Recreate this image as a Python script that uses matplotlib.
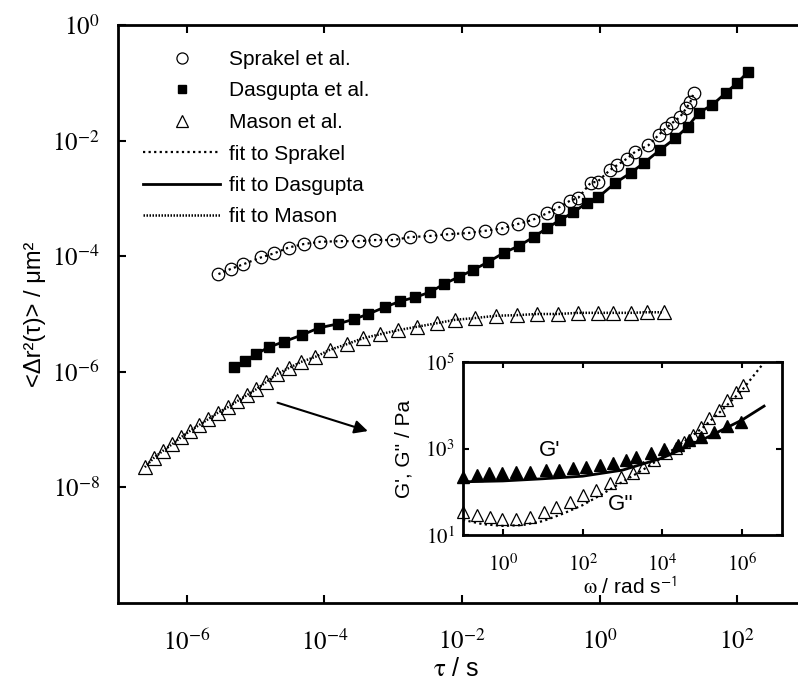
import numpy as np
import matplotlib
matplotlib.use('Agg')
import matplotlib.pyplot as plt
from matplotlib.ticker import FixedLocator, FuncFormatter, NullLocator
from matplotlib.lines import Line2D

plt.rcParams['font.family'] = ['Liberation Sans', 'DejaVu Sans']
plt.rcParams['mathtext.fontset'] = 'stix'

# ---------------- main plot data (log10 values) ----------------
sprakel_logtau = [-5.54, -5.36, -5.18, -4.92, -4.73, -4.52, -4.30, -4.06, -3.77, -3.50,
                  -3.26, -3.00, -2.75, -2.47, -2.20, -1.92, -1.66, -1.42, -1.18, -0.97,
                  -0.77, -0.61, -0.43, -0.31, -0.13, -0.03, 0.15, 0.26, 0.40, 0.52,
                  0.71, 0.86, 0.96, 1.05, 1.17, 1.26, 1.32, 1.37]
sprakel_logmsd = [-4.31, -4.22, -4.14, -4.02, -3.95, -3.85, -3.79, -3.75, -3.74, -3.74,
                  -3.72, -3.72, -3.67, -3.65, -3.62, -3.60, -3.56, -3.52, -3.44, -3.37,
                  -3.26, -3.17, -3.04, -2.99, -2.73, -2.71, -2.51, -2.42, -2.31, -2.19,
                  -2.08, -1.90, -1.79, -1.70, -1.59, -1.44, -1.33, -1.17]

dasgupta_logtau = [-5.31, -5.15, -4.99, -4.80, -4.59, -4.32, -4.08, -3.80, -3.57, -3.36,
                   -3.12, -2.90, -2.68, -2.46, -2.26, -2.05, -1.84, -1.62, -1.39, -1.17,
                   -0.96, -0.76, -0.57, -0.38, -0.19, -0.02, 0.23, 0.45, 0.64, 0.88,
                   1.10, 1.28, 1.44, 1.64, 1.83, 2.00, 2.16]
dasgupta_logmsd = [-5.92, -5.81, -5.69, -5.57, -5.48, -5.36, -5.24, -5.17, -5.09, -5.00,
                   -4.88, -4.78, -4.71, -4.62, -4.48, -4.36, -4.24, -4.10, -3.94, -3.82,
                   -3.67, -3.51, -3.37, -3.24, -3.08, -2.98, -2.73, -2.56, -2.39, -2.16,
                   -1.96, -1.76, -1.52, -1.38, -1.18, -1.00, -0.81]

mason_logtau = [-6.61, -6.48, -6.35, -6.21, -6.08, -5.95, -5.82, -5.69, -5.55, -5.40,
                -5.27, -5.12, -4.99, -4.85, -4.69, -4.51, -4.34, -4.13, -3.92, -3.67,
                -3.44, -3.19, -2.93, -2.65, -2.37, -2.10, -1.81, -1.50, -1.20, -0.91,
                -0.60, -0.31, -0.02, 0.19, 0.45, 0.69, 0.93]
mason_logmsd = [-7.65, -7.49, -7.37, -7.25, -7.13, -7.02, -6.92, -6.82, -6.71, -6.61,
                -6.51, -6.40, -6.30, -6.18, -6.04, -5.93, -5.83, -5.74, -5.62, -5.52,
                -5.42, -5.35, -5.28, -5.22, -5.16, -5.10, -5.07, -5.03, -5.02, -5.00,
                -5.00, -4.98, -4.98, -4.98, -4.98, -4.97, -4.97]

# ---------------- inset data (log10 values) ----------------
gp_logw = [-0.99, -0.64, -0.34, -0.01, 0.34, 0.68, 1.08, 1.41, 1.76, 2.09, 2.43, 2.76,
           3.09, 3.34, 3.72, 4.05, 4.38, 4.68, 4.97, 5.30, 5.63, 5.97]
gp_logG = [2.35, 2.39, 2.43, 2.44, 2.46, 2.46, 2.50, 2.50, 2.54, 2.58, 2.62, 2.66,
           2.73, 2.81, 2.89, 3.00, 3.08, 3.20, 3.27, 3.39, 3.52, 3.62]

gpp_logw = [-0.99, -0.64, -0.33, -0.01, 0.34, 0.68, 1.03, 1.34, 1.68, 2.01, 2.34, 2.68,
            2.97, 3.26, 3.51, 3.80, 4.09, 4.34, 4.55, 4.76, 4.97, 5.18, 5.43, 5.63, 5.84, 6.01]
gpp_logG = [1.54, 1.46, 1.41, 1.36, 1.36, 1.41, 1.54, 1.65, 1.77, 1.93, 2.04, 2.20,
            2.35, 2.43, 2.58, 2.73, 2.89, 3.01, 3.16, 3.31, 3.50, 3.70, 3.89, 4.12, 4.31, 4.47]

gp_fit_logw = [-1.0, 0.0, 1.0, 2.0, 3.0, 4.0, 5.0, 6.0, 6.55]
gp_fit_logG = [2.23, 2.25, 2.30, 2.36, 2.50, 2.78, 3.20, 3.66, 3.98]

gpp_fit_logw = [-1.0, -0.5, 0.0, 0.5, 1.0, 1.5, 2.0, 2.5, 3.0, 3.5, 4.0, 4.5, 5.0, 5.5, 6.0, 6.5, 6.55]
gpp_fit_logG = [1.35, 1.25, 1.21, 1.23, 1.32, 1.49, 1.69, 1.95, 2.23, 2.50, 2.80, 3.13,
                3.47, 3.89, 4.35, 4.93, 5.0]

legend_labels = ['Sprakel et al.', 'Dasgupta et al.', 'Mason et al.',
                 'fit to Sprakel', 'fit to Dasgupta', 'fit to Mason']

arrow_start = (10**-4.72, 10**-6.52)
arrow_end = (10**-3.33, 10**-7.04)


def p10(v):
    return 10.0 ** np.asarray(v, dtype=float)


def exp_fmt(v, pos):
    e = int(round(np.log10(v)))
    return r'$10^{%d}$' % e


W, H = 798.0, 684.0
fig = plt.figure(figsize=(7.98, 6.84), dpi=100)
fig.patch.set_facecolor('white')

ax = fig.add_axes([118 / W, 1 - 603 / H, 688 / W, 578 / H])
ax.set_xscale('log')
ax.set_yscale('log')
ax.set_xlim(1e-7, 1e3)
ax.set_ylim(1e-10, 1e0)

dot_s = (0, (1, 1.5))
dot_m = (0, (0.6, 0.6))

ax.plot(p10(sprakel_logtau), p10(sprakel_logmsd), color='k', ls=dot_s, lw=1.6,
        marker='o', ms=9, mfc='none', mec='k', mew=0.9)
ax.plot(p10(dasgupta_logtau), p10(dasgupta_logmsd), color='k', ls='-', lw=2,
        marker='s', ms=6.5, mfc='k', mec='k')
ax.plot(p10(mason_logtau), p10(mason_logmsd), color='k', ls=dot_m, lw=1.8,
        marker='^', ms=10, mfc='none', mec='k', mew=0.9)

ax.xaxis.set_major_locator(FixedLocator([1e-6, 1e-4, 1e-2, 1e0, 1e2]))
ax.yaxis.set_major_locator(FixedLocator([1e-8, 1e-6, 1e-4, 1e-2, 1e0]))
ax.xaxis.set_minor_locator(NullLocator())
ax.yaxis.set_minor_locator(NullLocator())
ax.xaxis.set_major_formatter(FuncFormatter(exp_fmt))
ax.yaxis.set_major_formatter(FuncFormatter(exp_fmt))
ax.tick_params(which='both', direction='in', length=6, width=1.5, top=True, right=True,
               labelsize=18)
ax.tick_params(axis='x', pad=19)
ax.tick_params(axis='y', pad=13)
for s in ax.spines.values():
    s.set_linewidth(2)

ax.set_xlabel(r'$\mathrm{\tau}$ / s', fontsize=18, va='top')
ax.xaxis.set_label_coords((456 - 118) / 688, (603 - 657) / 578)
ax.set_ylabel('<Δr²(τ)> / μm²', fontsize=17)
ax.yaxis.set_label_coords((46 - 118) / 688, 0.5)

ax.annotate('', xy=arrow_end, xytext=arrow_start,
            arrowprops=dict(arrowstyle='-|>', color='k', lw=1.5, mutation_scale=20))

handles = [
    Line2D([], [], ls='none', marker='o', ms=8, mfc='none', mec='k', mew=0.9),
    Line2D([], [], ls='none', marker='s', ms=6, mfc='k', mec='k'),
    Line2D([], [], ls='none', marker='^', ms=8, mfc='none', mec='k', mew=0.9),
    Line2D([], [], color='k', ls=dot_s, lw=1.6),
    Line2D([], [], color='k', ls='-', lw=2),
    Line2D([], [], color='k', ls=dot_m, lw=1.8),
]
fig.legend(handles, legend_labels, loc='upper left', bbox_to_anchor=(143 / W, 1 - 50 / H),
           frameon=False, fontsize=15, handlelength=3.7, handletextpad=0.43,
           labelspacing=0.6, borderpad=0, borderaxespad=0)

# ---------------- inset ----------------
ins = fig.add_axes([463 / W, 1 - 535 / H, 319 / W, 173 / H])
ins.set_xscale('log')
ins.set_yscale('log')
ins.set_xlim(1e-1, 1e7)
ins.set_ylim(1e1, 1e5)
ins.plot(p10(gp_fit_logw), p10(gp_fit_logG), color='k', ls='-', lw=2)
ins.plot(p10(gpp_fit_logw), p10(gpp_fit_logG), color='k', ls=dot_s, lw=1.6)
ins.plot(p10(gp_logw), p10(gp_logG), ls='none', marker='^', ms=9, mfc='k', mec='k',
         clip_on=False)
ins.plot(p10(gpp_logw), p10(gpp_logG), ls='none', marker='^', ms=9, mfc='none', mec='k',
         mew=0.9, clip_on=False)
ins.xaxis.set_major_locator(FixedLocator([1e0, 1e2, 1e4, 1e6]))
ins.yaxis.set_major_locator(FixedLocator([1e1, 1e3, 1e5]))
ins.xaxis.set_minor_locator(NullLocator())
ins.yaxis.set_minor_locator(NullLocator())
ins.xaxis.set_major_formatter(FuncFormatter(exp_fmt))
ins.yaxis.set_major_formatter(FuncFormatter(exp_fmt))
ins.tick_params(which='both', direction='in', length=4, width=1.5, top=True, right=True,
                labelsize=15)
ins.tick_params(axis='x', pad=13)
ins.tick_params(axis='y', pad=6)
for s in ins.spines.values():
    s.set_linewidth(2)
ins.set_xlabel(r'$\mathrm{\omega}$ / rad s$^{\mathsf{-1}}$', fontsize=15, va='top')
ins.xaxis.set_label_coords((630 - 463) / 319, (535 - 576) / 173)
ins.set_ylabel("G', G'' / Pa", fontsize=15)
ins.yaxis.set_label_coords((413 - 463) / 319, 0.5)
ins.text(0.273, 0.49, "G'", transform=ins.transAxes, fontsize=16, ha='center', va='center')
ins.text(0.495, 0.175, "G''", transform=ins.transAxes, fontsize=16, ha='center', va='center')

fig.savefig('out.png', dpi=100, facecolor='white')
